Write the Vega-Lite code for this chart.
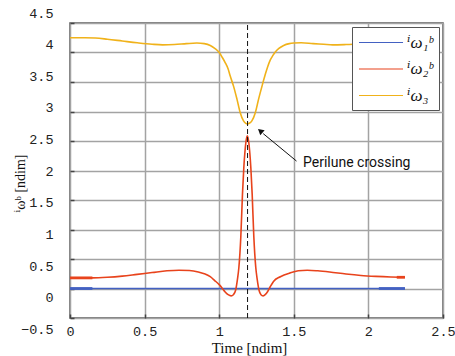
{
  "$schema": "https://vega.github.io/schema/vega-lite/v6.json",
  "width": 373,
  "height": 295,
  "autosize": {"type": "none"},
  "padding": {"left": 70, "top": 23, "right": 12, "bottom": 38},
  "background": "white",
  "config": {
    "view": {"stroke": "#555555", "strokeWidth": 1.5},
    "legend": {
      "orient": "none",
      "legendX": 282,
      "legendY": 4,
      "title": null,
      "symbolType": "M-1,0H4.18",
      "symbolSize": 289,
      "symbolStrokeWidth": 1.2,
      "labelFont": "'Liberation Serif', 'DejaVu Serif', serif",
      "labelFontSize": 17,
      "labelFontStyle": "italic",
      "labelColor": "#111111",
      "labelOffset": 30,
      "padding": 6,
      "rowPadding": 8.5,
      "strokeColor": "#555555",
      "fillColor": "white",
      "cornerRadius": 0
    }
  },
  "datasets": {
    "omega": [
      {"t": 0, "w": 0, "comp": "ⁱω₁ᵇ"},
      {"t": 0.5, "w": 0, "comp": "ⁱω₁ᵇ"},
      {"t": 1.0, "w": 0, "comp": "ⁱω₁ᵇ"},
      {"t": 1.5, "w": 0, "comp": "ⁱω₁ᵇ"},
      {"t": 2.0, "w": 0, "comp": "ⁱω₁ᵇ"},
      {"t": 2.245, "w": 0, "comp": "ⁱω₁ᵇ"},
      {"t": 0, "w": 0.18, "comp": "ⁱω₂ᵇ"},
      {"t": 0.15, "w": 0.18, "comp": "ⁱω₂ᵇ"},
      {"t": 0.25, "w": 0.19, "comp": "ⁱω₂ᵇ"},
      {"t": 0.35, "w": 0.21, "comp": "ⁱω₂ᵇ"},
      {"t": 0.45, "w": 0.24, "comp": "ⁱω₂ᵇ"},
      {"t": 0.55, "w": 0.27, "comp": "ⁱω₂ᵇ"},
      {"t": 0.65, "w": 0.3, "comp": "ⁱω₂ᵇ"},
      {"t": 0.73, "w": 0.31, "comp": "ⁱω₂ᵇ"},
      {"t": 0.8, "w": 0.305, "comp": "ⁱω₂ᵇ"},
      {"t": 0.86, "w": 0.28, "comp": "ⁱω₂ᵇ"},
      {"t": 0.9, "w": 0.25, "comp": "ⁱω₂ᵇ"},
      {"t": 0.94, "w": 0.2, "comp": "ⁱω₂ᵇ"},
      {"t": 0.97, "w": 0.135, "comp": "ⁱω₂ᵇ"},
      {"t": 1.0, "w": 0.065, "comp": "ⁱω₂ᵇ"},
      {"t": 1.02, "w": 0.005, "comp": "ⁱω₂ᵇ"},
      {"t": 1.04, "w": -0.06, "comp": "ⁱω₂ᵇ"},
      {"t": 1.06, "w": -0.105, "comp": "ⁱω₂ᵇ"},
      {"t": 1.08, "w": -0.125, "comp": "ⁱω₂ᵇ"},
      {"t": 1.095, "w": -0.105, "comp": "ⁱω₂ᵇ"},
      {"t": 1.11, "w": -0.03, "comp": "ⁱω₂ᵇ"},
      {"t": 1.122, "w": 0.15, "comp": "ⁱω₂ᵇ"},
      {"t": 1.132, "w": 0.36, "comp": "ⁱω₂ᵇ"},
      {"t": 1.145, "w": 0.88, "comp": "ⁱω₂ᵇ"},
      {"t": 1.156, "w": 1.6, "comp": "ⁱω₂ᵇ"},
      {"t": 1.165, "w": 2.05, "comp": "ⁱω₂ᵇ"},
      {"t": 1.172, "w": 2.3, "comp": "ⁱω₂ᵇ"},
      {"t": 1.18, "w": 2.5, "comp": "ⁱω₂ᵇ"},
      {"t": 1.188, "w": 2.59, "comp": "ⁱω₂ᵇ"},
      {"t": 1.197, "w": 2.5, "comp": "ⁱω₂ᵇ"},
      {"t": 1.205, "w": 2.3, "comp": "ⁱω₂ᵇ"},
      {"t": 1.212, "w": 2.05, "comp": "ⁱω₂ᵇ"},
      {"t": 1.221, "w": 1.6, "comp": "ⁱω₂ᵇ"},
      {"t": 1.232, "w": 0.88, "comp": "ⁱω₂ᵇ"},
      {"t": 1.245, "w": 0.36, "comp": "ⁱω₂ᵇ"},
      {"t": 1.255, "w": 0.15, "comp": "ⁱω₂ᵇ"},
      {"t": 1.267, "w": -0.03, "comp": "ⁱω₂ᵇ"},
      {"t": 1.28, "w": -0.105, "comp": "ⁱω₂ᵇ"},
      {"t": 1.294, "w": -0.125, "comp": "ⁱω₂ᵇ"},
      {"t": 1.31, "w": -0.1, "comp": "ⁱω₂ᵇ"},
      {"t": 1.325, "w": -0.05, "comp": "ⁱω₂ᵇ"},
      {"t": 1.342, "w": 0.03, "comp": "ⁱω₂ᵇ"},
      {"t": 1.364, "w": 0.12, "comp": "ⁱω₂ᵇ"},
      {"t": 1.41, "w": 0.2, "comp": "ⁱω₂ᵇ"},
      {"t": 1.476, "w": 0.265, "comp": "ⁱω₂ᵇ"},
      {"t": 1.53, "w": 0.3, "comp": "ⁱω₂ᵇ"},
      {"t": 1.59, "w": 0.31, "comp": "ⁱω₂ᵇ"},
      {"t": 1.66, "w": 0.3, "comp": "ⁱω₂ᵇ"},
      {"t": 1.74, "w": 0.28, "comp": "ⁱω₂ᵇ"},
      {"t": 1.85, "w": 0.245, "comp": "ⁱω₂ᵇ"},
      {"t": 1.95, "w": 0.22, "comp": "ⁱω₂ᵇ"},
      {"t": 2.05, "w": 0.205, "comp": "ⁱω₂ᵇ"},
      {"t": 2.15, "w": 0.195, "comp": "ⁱω₂ᵇ"},
      {"t": 2.245, "w": 0.19, "comp": "ⁱω₂ᵇ"},
      {"t": 0, "w": 4.25, "comp": "ⁱω₃"},
      {"t": 0.1, "w": 4.25, "comp": "ⁱω₃"},
      {"t": 0.17, "w": 4.245, "comp": "ⁱω₃"},
      {"t": 0.25, "w": 4.225, "comp": "ⁱω₃"},
      {"t": 0.35, "w": 4.195, "comp": "ⁱω₃"},
      {"t": 0.45, "w": 4.165, "comp": "ⁱω₃"},
      {"t": 0.55, "w": 4.14, "comp": "ⁱω₃"},
      {"t": 0.62, "w": 4.13, "comp": "ⁱω₃"},
      {"t": 0.7, "w": 4.135, "comp": "ⁱω₃"},
      {"t": 0.78, "w": 4.15, "comp": "ⁱω₃"},
      {"t": 0.85, "w": 4.16, "comp": "ⁱω₃"},
      {"t": 0.9, "w": 4.15, "comp": "ⁱω₃"},
      {"t": 0.94, "w": 4.12, "comp": "ⁱω₃"},
      {"t": 0.97, "w": 4.07, "comp": "ⁱω₃"},
      {"t": 1.0, "w": 4.0, "comp": "ⁱω₃"},
      {"t": 1.02, "w": 3.92, "comp": "ⁱω₃"},
      {"t": 1.04, "w": 3.83, "comp": "ⁱω₃"},
      {"t": 1.06, "w": 3.72, "comp": "ⁱω₃"},
      {"t": 1.074, "w": 3.6, "comp": "ⁱω₃"},
      {"t": 1.096, "w": 3.43, "comp": "ⁱω₃"},
      {"t": 1.119, "w": 3.21, "comp": "ⁱω₃"},
      {"t": 1.141, "w": 2.98, "comp": "ⁱω₃"},
      {"t": 1.163, "w": 2.84, "comp": "ⁱω₃"},
      {"t": 1.178, "w": 2.8, "comp": "ⁱω₃"},
      {"t": 1.19, "w": 2.79, "comp": "ⁱω₃"},
      {"t": 1.202, "w": 2.8, "comp": "ⁱω₃"},
      {"t": 1.219, "w": 2.84, "comp": "ⁱω₃"},
      {"t": 1.242, "w": 2.98, "comp": "ⁱω₃"},
      {"t": 1.264, "w": 3.21, "comp": "ⁱω₃"},
      {"t": 1.287, "w": 3.43, "comp": "ⁱω₃"},
      {"t": 1.309, "w": 3.63, "comp": "ⁱω₃"},
      {"t": 1.325, "w": 3.76, "comp": "ⁱω₃"},
      {"t": 1.342, "w": 3.87, "comp": "ⁱω₃"},
      {"t": 1.36, "w": 3.95, "comp": "ⁱω₃"},
      {"t": 1.376, "w": 4.01, "comp": "ⁱω₃"},
      {"t": 1.4, "w": 4.07, "comp": "ⁱω₃"},
      {"t": 1.432, "w": 4.12, "comp": "ⁱω₃"},
      {"t": 1.47, "w": 4.15, "comp": "ⁱω₃"},
      {"t": 1.5, "w": 4.16, "comp": "ⁱω₃"},
      {"t": 1.55, "w": 4.165, "comp": "ⁱω₃"},
      {"t": 1.63, "w": 4.15, "comp": "ⁱω₃"},
      {"t": 1.7, "w": 4.14, "comp": "ⁱω₃"},
      {"t": 1.76, "w": 4.13, "comp": "ⁱω₃"},
      {"t": 1.85, "w": 4.135, "comp": "ⁱω₃"},
      {"t": 1.95, "w": 4.145, "comp": "ⁱω₃"},
      {"t": 2.05, "w": 4.15, "comp": "ⁱω₃"},
      {"t": 2.15, "w": 4.155, "comp": "ⁱω₃"},
      {"t": 2.245, "w": 4.155, "comp": "ⁱω₃"}
    ],
    "segments": [
      {"t": 0, "w": 0.18, "comp": "ⁱω₂ᵇ", "seg": "a"},
      {"t": 0.15, "w": 0.18, "comp": "ⁱω₂ᵇ", "seg": "a"},
      {"t": 0, "w": 0, "comp": "ⁱω₁ᵇ", "seg": "b"},
      {"t": 0.15, "w": 0, "comp": "ⁱω₁ᵇ", "seg": "b"},
      {"t": 2.07, "w": 0, "comp": "ⁱω₁ᵇ", "seg": "c"},
      {"t": 2.245, "w": 0, "comp": "ⁱω₁ᵇ", "seg": "c"},
      {"t": 2.19, "w": 0.19, "comp": "ⁱω₂ᵇ", "seg": "d"},
      {"t": 2.245, "w": 0.19, "comp": "ⁱω₂ᵇ", "seg": "d"}
    ],
    "event": [
      {"t": 1.19, "w": -0.5, "w2": 4.5}
    ],
    "arrow": [
      {"t": 1.518, "w": 2.16, "t2": 1.295, "w2": 2.625}
    ],
    "arrowhead": [
      {"t": 1.28, "w": 2.66}
    ],
    "note": [
      {"t": 1.562, "w": 2.13, "label": "Perilune crossing"}
    ]
  },
  "encoding": {
    "x": {
      "field": "t",
      "type": "quantitative",
      "scale": {"domain": [0, 2.5], "nice": false, "zero": false},
      "axis": {
        "values": [0, 0.5, 1, 1.5, 2, 2.5],
        "format": "~g",
        "grid": true,
        "gridColor": "#a3a3a3",
        "gridWidth": 1.5,
        "domain": false,
        "tickSize": -4,
        "tickColor": "#444444",
        "tickWidth": 1.5,
        "labelFlush": false,
        "labelOverlap": false,
        "labelFont": "'Liberation Mono', monospace",
        "labelFontSize": 13.5,
        "labelColor": "#222222",
        "labelPadding": 10,
        "title": "Time [ndim]",
        "titleFont": "'Liberation Serif', serif",
        "titleFontSize": 15,
        "titleFontWeight": "normal",
        "titleColor": "#111111",
        "titleX": 179,
        "titleY": 34,
        "titleBaseline": "alphabetic",
        "titleAlign": "center"
      }
    },
    "y": {
      "field": "w",
      "type": "quantitative",
      "scale": {"domain": [-0.5, 4.5], "nice": false, "zero": false},
      "axis": {
        "values": [-0.5, 0, 0.5, 1, 1.5, 2, 2.5, 3, 3.5, 4, 4.5],
        "format": "~g",
        "grid": true,
        "gridColor": "#a3a3a3",
        "gridWidth": 1.5,
        "domain": false,
        "tickSize": -4,
        "tickColor": "#444444",
        "tickWidth": 1.5,
        "labelFlush": false,
        "labelOverlap": false,
        "labelFont": "'Liberation Mono', monospace",
        "labelFontSize": 13.5,
        "labelColor": "#222222",
        "labelPadding": 21,
        "labelOffset": {"expr": "-10 + (4.5 - datum.value) * 4.26"},
        "title": "ⁱωᵇ [ndim]",
        "titleFont": "'Liberation Serif', 'DejaVu Serif', serif",
        "titleFontSize": 14,
        "titleFontWeight": "normal",
        "titleColor": "#111111",
        "titleAngle": 270,
        "titleX": -50,
        "titleY": 160,
        "titleBaseline": "middle",
        "titleAlign": "center"
      }
    }
  },
  "layer": [
    {
      "data": {"name": "omega"},
      "mark": {"type": "line", "strokeWidth": 1.6, "interpolate": "monotone"},
      "encoding": {
        "color": {
          "field": "comp",
          "type": "nominal",
          "scale": {"domain": ["ⁱω₁ᵇ", "ⁱω₂ᵇ", "ⁱω₃"], "range": ["#4361c2", "#e8431c", "#f0b21a"]}
        }
      }
    },
    {
      "data": {"name": "segments"},
      "mark": {"type": "line", "strokeWidth": 2.8},
      "encoding": {
        "color": {"field": "comp", "type": "nominal"},
        "detail": {"field": "seg", "type": "nominal"}
      }
    },
    {
      "data": {"name": "event"},
      "mark": {"type": "rule", "color": "#111111", "strokeWidth": 1, "strokeDash": [5, 3]},
      "encoding": {
        "y2": {"field": "w2"}
      }
    },
    {
      "data": {"name": "arrow"},
      "mark": {"type": "rule", "color": "#111111", "strokeWidth": 1},
      "encoding": {
        "x2": {"field": "t2"},
        "y2": {"field": "w2"}
      }
    },
    {
      "data": {"name": "arrowhead"},
      "mark": {"type": "point", "shape": "triangle", "angle": 310, "filled": true, "color": "#111111", "opacity": 1, "size": 45},
      "encoding": {}
    },
    {
      "data": {"name": "note"},
      "mark": {"type": "text", "align": "left", "baseline": "middle", "font": "Roboto", "fontSize": 14, "color": "#111111"},
      "encoding": {
        "text": {"field": "label", "type": "nominal"}
      }
    }
  ]
}
